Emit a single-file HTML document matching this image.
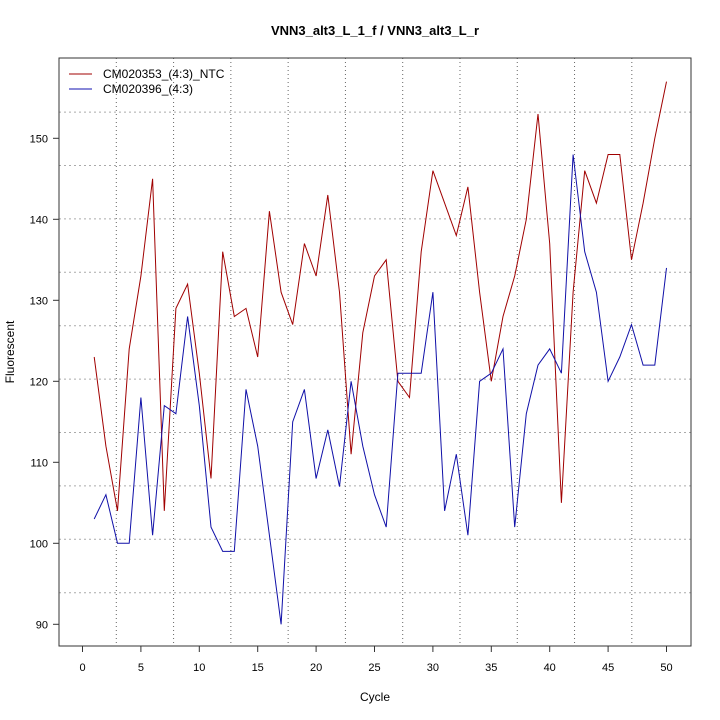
<!DOCTYPE html>
<html><head><meta charset="utf-8"><style>
html,body{margin:0;padding:0;background:#fff;}
svg{display:block;font-family:"Liberation Sans",sans-serif;}
</style></head><body>
<svg id="s" width="720" height="720" viewBox="0 0 720 720" xmlns="http://www.w3.org/2000/svg">
<rect width="720" height="720" fill="#fff"/>
<g id="grid" stroke="#aaa" stroke-width="1" stroke-dasharray="2,3"></g>
<g id="vgrid" stroke="#666" stroke-width="1" stroke-dasharray="1,3"></g>
<rect x="59" y="58" width="632" height="588" fill="none" stroke="#333" stroke-width="1"/>
<g id="ticks" stroke="#333" stroke-width="1"></g>
<g id="labels" font-size="11" fill="#000"></g>
<text x="375" y="35" font-size="13" font-weight="bold" text-anchor="middle">VNN3_alt3_L_1_f / VNN3_alt3_L_r</text>
<text x="375" y="701" font-size="12" text-anchor="middle">Cycle</text>
<text transform="translate(14,352) rotate(-90)" font-size="12" text-anchor="middle">Fluorescent</text>
<line x1="69" y1="74" x2="92" y2="74" stroke="#a00000"/>
<line x1="69" y1="89" x2="92" y2="89" stroke="#1010b0"/>
<text x="103" y="78" font-size="12">CM020353_(4:3)_NTC</text>
<text x="103" y="93" font-size="12">CM020396_(4:3)</text>
<polyline id="red" fill="none" stroke="#a00000" stroke-width="1"/>
<polyline id="blue" fill="none" stroke="#1010a8" stroke-width="1"/>
</svg>
<script>
var NS="http://www.w3.org/2000/svg";
function X(c){return 82.5+11.68*c;}
function Y(v){return 624.3-8.1*(v-90);}
function el(p,t,a,txt){var e=document.createElementNS(NS,t);for(var k in a)e.setAttribute(k,a[k]);if(txt!==undefined)e.textContent=txt;document.getElementById(p).appendChild(e);}
for(var i=0;i<11;i++){var y=592.7-53.4*i;if(y>59)el("grid","line",{x1:59,x2:691,y1:y,y2:y});}
for(var i=0;i<10;i++){var x=116.3+57.28*i;el("vgrid","line",{x1:x,x2:x,y1:58,y2:646});}
for(var c=0;c<=50;c+=5){el("ticks","line",{x1:X(c),x2:X(c),y1:646,y2:652});el("labels","text",{x:X(c),y:671,"text-anchor":"middle"},c);}
for(var v=90;v<=150;v+=10){el("ticks","line",{x1:53,x2:59,y1:Y(v),y2:Y(v)});el("labels","text",{x:48,y:Y(v)+4,"text-anchor":"end"},v);}
var r=[123,112,104,124,133,145,104,129,132,121,108,136,128,129,123,141,131,127,137,133,143,131,111,126,133,135,120,118,136,146,142,138,144,131,120,128,133,140,153,137,105,131,146,142,148,148,135,142,150,157];
var b=[103,106,100,100,118,101,117,116,128,117,102,99,99,119,112,101,90,115,119,108,114,107,120,112,106,102,121,121,121,131,104,111,101,120,121,124,102,116,122,124,121,148,136,131,120,123,127,122,122,134];
function pts(a){return a.map(function(v,i){return X(i+1).toFixed(1)+","+Y(v).toFixed(1);}).join(" ");}
document.getElementById("red").setAttribute("points",pts(r));
document.getElementById("blue").setAttribute("points",pts(b));
</script>
</body></html>
